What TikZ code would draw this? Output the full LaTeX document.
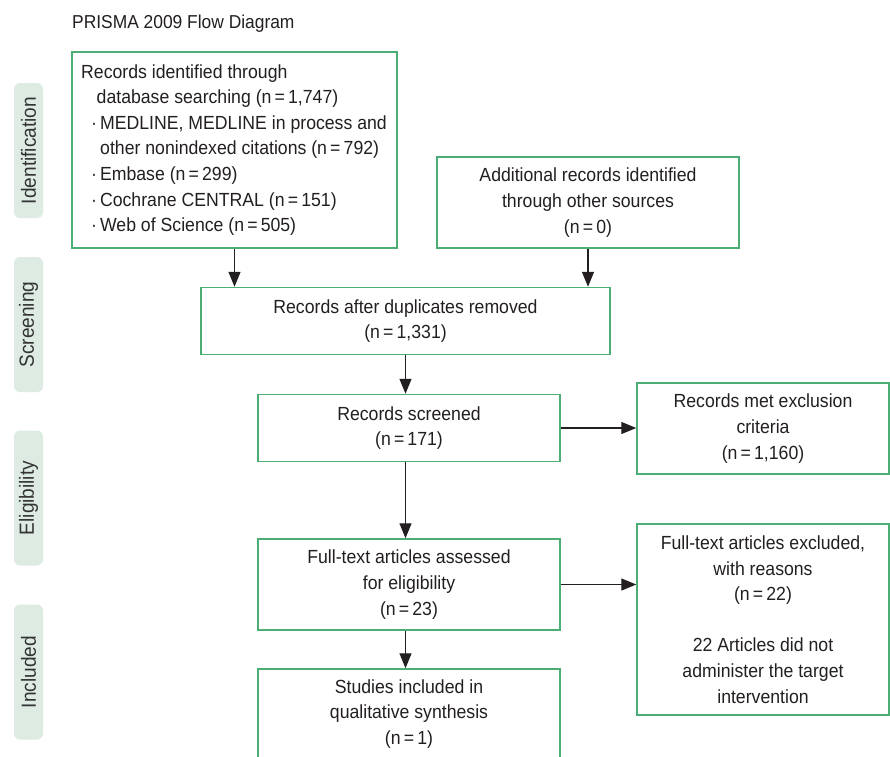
\documentclass[tikz,border=0pt]{standalone}
\usepackage{fontspec}
\setmainfont{Liberation Sans}[FakeStretch=0.93]
\usetikzlibrary{arrows.meta}
\definecolor{boxgreen}{HTML}{4CAE74}
\definecolor{pillfill}{HTML}{DDEBE3}
\definecolor{ink}{HTML}{231F20}
\definecolor{pillink}{HTML}{333333}
\tikzset{
  flowbox/.style={draw=boxgreen, line width=1.5pt, rectangle, inner sep=0pt, align=center,
    text=ink, font={\fontsize{19}{25.6}\selectfont}},
  pill/.style={fill=pillfill, rounded corners=6pt, rotate=90, minimum width=135pt, minimum height=29pt,
    inner sep=0pt, text=pillink, font={\fontsize{20.5}{24}\selectfont}},
  arr/.style={draw=ink, line width=1.3pt, -{Triangle[length=15pt, width=12pt]}},
}
\begin{document}
\begin{tikzpicture}[x=1pt, y=-1pt]
\useasboundingbox (0,0) rectangle (890,756);
\fill[white] (0,0) rectangle (890,756);

\node[anchor=base west, inner sep=0pt, text=ink, font={\fontsize{18.7}{22}\selectfont}] (title) at (72,28.3) {PRISMA 2009 Flow Diagram};

% side labels
\node[pill] (pid) at (28.5,150.5) {Identification};
\node[pill] (psc) at (28.5,324.5) {Screening};
\node[pill] (pel) at (28.5,498) {Eligibility};
\node[pill] (pin) at (28.5,672) {Included};

% boxes
\node[flowbox, minimum width=325pt, minimum height=196pt] (b1) at (234.5,150) {};
\node[anchor=west, inner sep=0pt, align=left, text=ink, font={\fontsize{19}{25.6}\selectfont}] (b1t) at (81,150)
 {Records identified through\\
  \hspace*{15.5pt}database searching (n\,=\,1,747)\\
  \hspace*{10pt}·\hspace{3pt}MEDLINE, MEDLINE in process and\\
  \hspace*{19pt}other nonindexed citations (n\,=\,792)\\
  \hspace*{10pt}·\hspace{3pt}Embase (n\,=\,299)\\
  \hspace*{10pt}·\hspace{3pt}Cochrane CENTRAL (n\,=\,151)\\
  \hspace*{10pt}·\hspace{3pt}Web of Science (n\,=\,505)};

\node[flowbox, minimum width=302pt, minimum height=91pt] (b2) at (588,202.5)
 {Additional records identified\\through other sources\\(n\,=\,0)};

\node[flowbox, minimum width=409pt, minimum height=67pt] (b3) at (405.5,321)
 {Records after duplicates removed\\(n\,=\,1,331)};

\node[flowbox, minimum width=302pt, minimum height=67pt] (b4) at (409,428)
 {Records screened\\(n\,=\,171)};

\node[flowbox, minimum width=252pt, minimum height=91pt] (b5) at (763,428.5)
 {Records met exclusion\\criteria\\(n\,=\,1,160)};

\node[flowbox, minimum width=302pt, minimum height=91pt] (b6) at (409,584.5)
 {Full-text articles assessed\\for eligibility\\(n\,=\,23)};

\node[flowbox, minimum width=252pt, minimum height=191pt] (b7) at (763,619.5)
 {Full-text articles excluded,\\with reasons\\(n\,=\,22)\\[25.6pt]22 Articles did not\\administer the target\\intervention};

\node[flowbox, minimum width=302pt, minimum height=90pt] (b8) at (409,714)
 {Studies included in\\qualitative synthesis\\(n\,=\,1)};

% connectors
\draw[arr] (b1.south) -- (b1.south |- b3.north);
\draw[arr] (b2.south) -- (b2.south |- b3.north);
\draw[arr] (b3.south) -- (b3.south |- b4.north);
\draw[arr] (b4.south -| b3.south) -- (b3.south |- b6.north);
\draw[arr] (b6.south -| b3.south) -- (b3.south |- b8.north);
\draw[arr] (b4.east) -- (b4.east -| b5.west);
\draw[arr] (b6.east) -- (b6.east -| b7.west);
\end{tikzpicture}
\end{document}
